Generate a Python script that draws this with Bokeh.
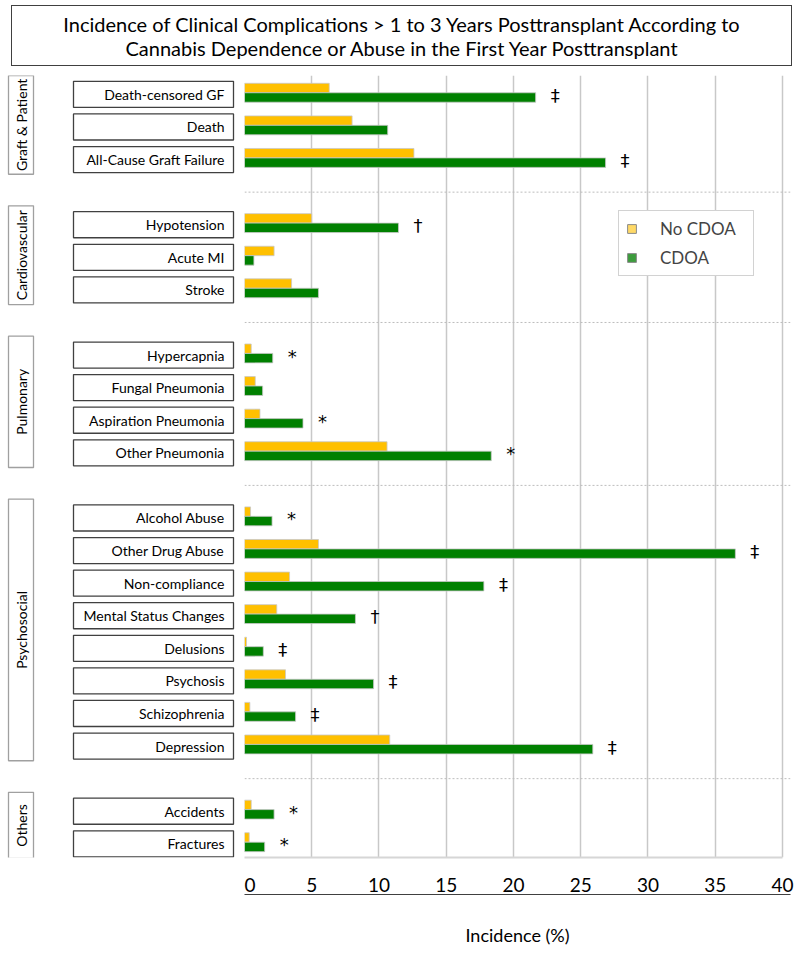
import numpy as np
from bokeh.plotting import figure
from bokeh.models import (Range1d, LinearAxis, FixedTicker, ColumnDataSource, Legend,
                          LegendItem, Div, Span, Grid)
from bokeh.layouts import column, row
from bokeh.core.properties import value
from bokeh.embed import file_html
from bokeh.resources import INLINE

FONT = "Lato"

# ---------------- data ----------------
title_lines = ["Incidence of Clinical Complications > 1 to 3 Years Posttransplant According to",
               "Cannabis Dependence or Abuse in the First Year Posttransplant"]
group_names = ["Graft & Patient", "Cardiovascular", "Pulmonary", "Psychosocial", "Others"]
categories = ["Death-censored GF", "Death", "All-Cause Graft Failure",
              "Hypotension", "Acute MI", "Stroke",
              "Hypercapnia", "Fungal Pneumonia", "Aspiration Pneumonia", "Other Pneumonia",
              "Alcohol Abuse", "Other Drug Abuse", "Non-compliance", "Mental Status Changes",
              "Delusions", "Psychosis", "Schizophrenia", "Depression",
              "Accidents", "Fractures"]
category_groups = ["Graft & Patient"] * 3 + ["Cardiovascular"] * 3 + ["Pulmonary"] * 4 + \
                  ["Psychosocial"] * 8 + ["Others"] * 2
no_cdoa = [6.3, 8.0, 12.6, 5.0, 2.2, 3.5, 0.5, 0.8, 1.15, 10.6,
           0.45, 5.5, 3.35, 2.4, 0.15, 3.05, 0.4, 10.8, 0.5, 0.35]
cdoa = [21.65, 10.65, 26.85, 11.45, 0.7, 5.5, 2.1, 1.35, 4.35, 18.35,
        2.05, 36.5, 17.8, 8.25, 1.4, 9.6, 3.8, 25.9, 2.2, 1.5]
significance = ["\u2021", "", "\u2021", "\u2020", "", "", "*", "", "*", "*",
                "*", "\u2021", "\u2021", "\u2020", "\u2021", "\u2021", "\u2021", "\u2021", "*", "*"]
series_names = ["No CDOA", "CDOA"]
x_ticks = [0, 5, 10, 15, 20, 25, 30, 35, 40]
x_label = "Incidence (%)"

# ---------------- derived layout (row slots, one blank slot between groups) ----------------
group_index = [group_names.index(g) for g in category_groups]
row_pos = np.array([i + gi for i, gi in enumerate(group_index)], dtype=float)
first_of_group = [row_pos[[j for j, g in enumerate(group_index) if g == k][0]] for k in range(len(group_names))]
last_of_group = [row_pos[[j for j, g in enumerate(group_index) if g == k][-1]] for k in range(len(group_names))]
separators = [(last_of_group[k] + first_of_group[k + 1]) / 2 for k in range(len(group_names) - 1)]

y_range = Range1d(start=row_pos[-1] + 0.42, end=row_pos[0] - 0.58)

T, B, H = 4, 88, 877

# ---------------- right: bars ----------------
R = figure(width=552, height=H, x_range=Range1d(0, 40.6), y_range=y_range,
           x_axis_type=None, y_axis_type=None, output_backend="svg", toolbar_location=None,
           min_border_left=0, min_border_right=6, min_border_top=T, min_border_bottom=B,
           outline_line_color=None, background_fill_color="white")

R.add_layout(Grid(dimension=0, ticker=FixedTicker(ticks=x_ticks),
                  grid_line_color="#c8c8c8", grid_line_width=1.5))
for s in separators:
    R.add_layout(Span(location=s, dimension="width", line_color="#bdbdbd",
                      line_dash="2 2", line_width=1))

src = ColumnDataSource(dict(y_no=row_pos - 0.195, y_yes=row_pos + 0.095, no=no_cdoa, yes=cdoa))
R.hbar(y="y_no", left=0, right="no", height=0.29, source=src,
       fill_color="#FFC000", line_color="#c8c8c8", line_width=0.8)
R.hbar(y="y_yes", left=0, right="yes", height=0.29, source=src,
       fill_color="#008000", line_color="#c8c8c8", line_width=0.8)

sig_idx = [i for i, s in enumerate(significance) if s]
sig_src = ColumnDataSource(dict(x=[cdoa[i] + 1.45 for i in sig_idx],
                                y=[row_pos[i] + 0.03 for i in sig_idx],
                                t=[significance[i] for i in sig_idx]))
R.text(x="x", y="y", text="t", source=sig_src, text_align="center", text_baseline="middle",
       text_font=value("DejaVu Sans"), text_font_size="18px", text_color="black")

ax1 = LinearAxis(ticker=FixedTicker(ticks=x_ticks), bounds=(0, 40),
                 axis_line_color="#d6d6d6", axis_line_width=2,
                 major_tick_line_color=None, minor_tick_line_color=None,
                 major_label_standoff=14, major_label_text_font=FONT,
                 major_label_text_font_size="19px", major_label_text_color="black")
R.add_layout(ax1, "below")
ax2 = LinearAxis(ticker=FixedTicker(ticks=[]),
                 axis_line_color="#404040", axis_line_width=1.2,
                 major_tick_line_color=None, minor_tick_line_color=None,
                 axis_label=x_label, axis_label_standoff=29,
                 axis_label_text_font=FONT, axis_label_text_font_size="18px",
                 axis_label_text_font_style="normal", axis_label_text_color="black")
R.add_layout(ax2, "below")

hidden = ColumnDataSource(dict(y=[np.nan], right=[np.nan]))
lr_no = R.hbar(y="y", left=0, right="right", height=0.3, source=hidden,
               fill_color="#FFD966", line_color="#8a8a8a")
lr_yes = R.hbar(y="y", left=0, right="right", height=0.3, source=hidden,
                fill_color="#3C9C3C", line_color="#8a8a8a")
legend = Legend(items=[LegendItem(label=series_names[0], renderers=[lr_no]),
                       LegendItem(label=series_names[1], renderers=[lr_yes])],
                location=(374, 581), label_text_font=FONT, label_text_font_size="17px",
                glyph_width=11, glyph_height=11, label_standoff=23, spacing=8,
                padding=7, margin=0, label_height=20, label_width=86,
                border_line_color="#a6a6a6", border_line_width=1.2,
                background_fill_color="white", background_fill_alpha=1)
R.add_layout(legend)

# ---------------- left: labels ----------------
L = figure(width=244, height=H, x_range=Range1d(0, 244), y_range=y_range,
           x_axis_type=None, y_axis_type=None, output_backend="svg", toolbar_location=None,
           min_border_left=0, min_border_right=0, min_border_top=T, min_border_bottom=B,
           outline_line_color=None, background_fill_color="white")

L.rect(x=153, y=row_pos, width=160, height=0.8, fill_color="white",
       line_color="#404040", line_width=1.3)
L.text(x=224, y=row_pos, text=categories, text_align="right", text_baseline="middle",
       text_font=value(FONT), text_font_size="14px", text_color="black")

g_top = [f - 0.58 for f in first_of_group]
g_bot = [l + 0.45 for l in last_of_group]
L.quad(left=8, right=33, top=g_top, bottom=g_bot, fill_color="white",
       line_color="#a0a0a0", line_width=1.3)
L.text(x=21, y=[(a + b) / 2 for a, b in zip(g_top, g_bot)], text=group_names, angle=np.pi / 2,
       text_align="center", text_baseline="middle",
       text_font=value(FONT), text_font_size="14px", text_color="black")

# ---------------- title ----------------
title_html = ('<div style="box-sizing:border-box;margin-left:6px;width:781px;height:61px;'
              'border:1.5px solid #404040;'
              'display:flex;align-items:center;justify-content:center;text-align:center;'
              'font-family:Lato;font-size:20px;line-height:24px;color:#000;">'
              + "<br>".join(t.replace(">", "&gt;") for t in title_lines) + '</div>')
title_div = Div(text=title_html, width=792, height=61)

layout = column(title_div, row(L, R))
open("out.html", "w").write(file_html(layout, INLINE))
